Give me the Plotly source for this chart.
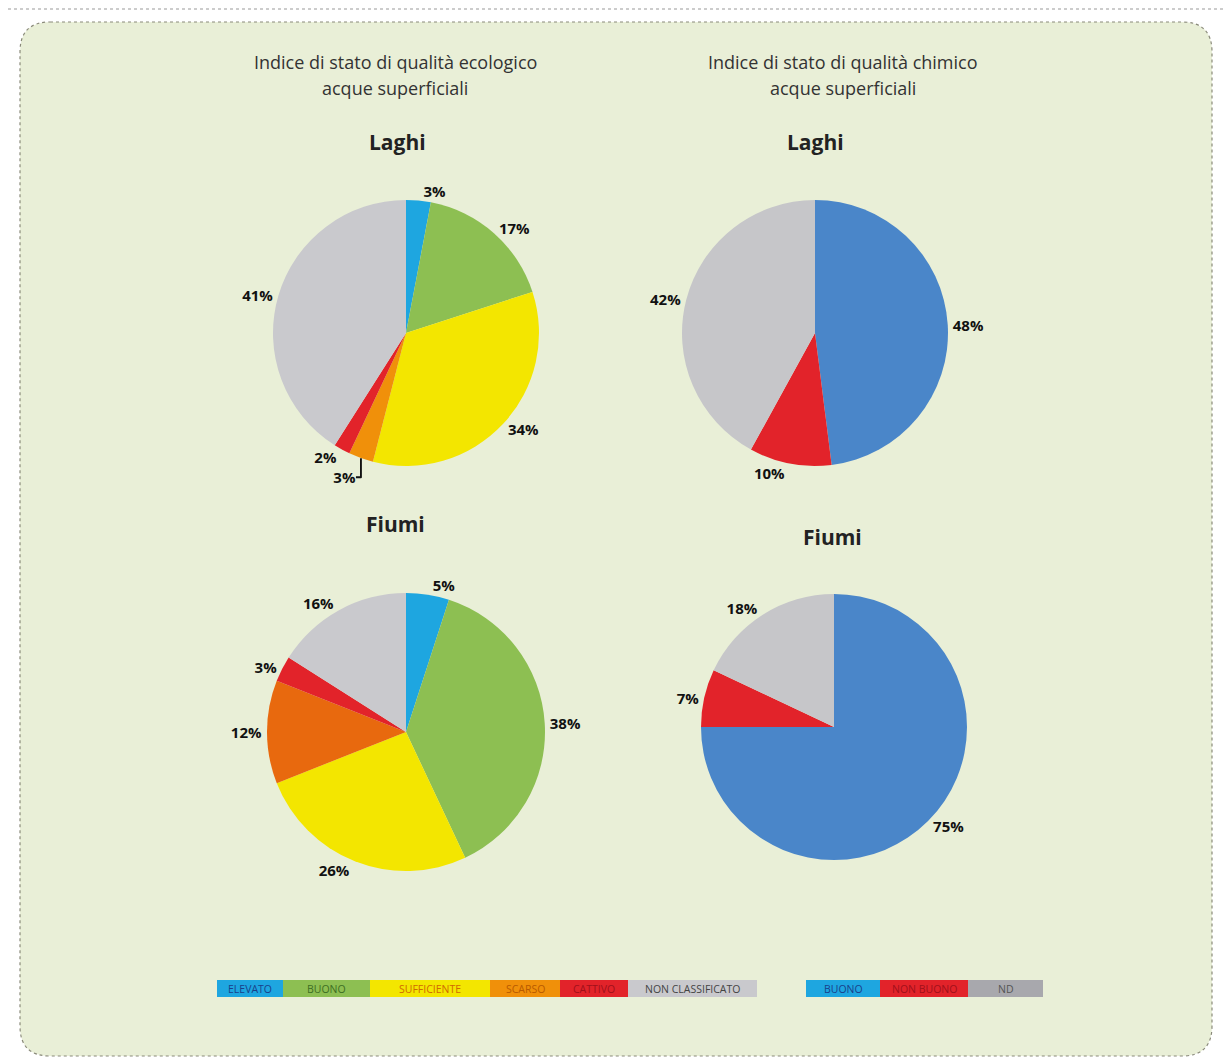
import plotly.graph_objects as go

W, H = 1231, 1061
OFF = 8  # page body margin offset

eco_labels = ["ELEVATO", "BUONO", "SUFFICIENTE", "SCARSO", "CATTIVO", "NON CLASSIFICATO"]
eco_colors = ["#1ea6e0", "#8dbf52", "#f3e600", "#f0900a", "#e2232a", "#c9c9cd"]
eco_text_colors = ["#1a3f8a", "#3e6e22", "#d06a00", "#b85a00", "#a0101a", "#444444"]
eco_laghi = [3, 17, 34, 3, 2, 41]
eco_fiumi = [5, 38, 26, 12, 3, 16]
fiumi_scarso_color = "#e8690e"

chem_labels = ["BUONO", "NON BUONO", "ND"]
chem_colors = ["#4a86c9", "#e2232a", "#c6c6c9"]
chem_legend_colors = ["#1ea6e0", "#e2232a", "#a8a8ad"]
chem_text_colors = ["#1a3f8a", "#a0101a", "#555555"]
chem_laghi = [48, 10, 42]
chem_fiumi = [75, 7, 18]


def px(x):
    return (x - OFF) / W


def py(y):
    return 1 - (y - OFF) / H


def dom(cx, cy, r):
    return dict(x=[px(cx - r), px(cx + r)], y=[py(cy + r), py(cy - r)])


fig = go.Figure()

pies = [
    (eco_labels, eco_laghi, eco_colors, (406, 333, 133)),
    (chem_labels, chem_laghi, chem_colors, (815, 333, 133)),
    (eco_labels, eco_fiumi, eco_colors[:3] + [fiumi_scarso_color] + eco_colors[4:], (406, 732, 139)),
    (chem_labels, chem_fiumi, chem_colors, (834, 727, 133)),
]
for labels, vals, cols, (cx, cy, r) in pies:
    fig.add_trace(go.Pie(
        labels=labels, values=vals, sort=False, direction="clockwise", rotation=0,
        marker=dict(colors=cols, line=dict(width=0)),
        texttemplate="%{value}%", textposition="outside",
        textfont=dict(family="Open Sans", size=15, color="#111111", weight="bold"),
        domain=dom(cx, cy, r), showlegend=False, hoverinfo="label+value",
    ))

shapes = []
# top dotted line
shapes.append(dict(type="line", xref="paper", yref="paper", x0=0, x1=1, y0=py(9), y1=py(9),
                   line=dict(color="#9a9a9a", width=1.2, dash="dot")))
# rounded panel
x0, x1, y0, y1, rr = 20, 1212, 22, 1056, 30
path = (f"M {px(x0+rr)},{py(y0)} L {px(x1-rr)},{py(y0)} Q {px(x1)},{py(y0)} {px(x1)},{py(y0+rr)} "
        f"L {px(x1)},{py(y1-rr)} Q {px(x1)},{py(y1)} {px(x1-rr)},{py(y1)} "
        f"L {px(x0+rr)},{py(y1)} Q {px(x0)},{py(y1)} {px(x0)},{py(y1-rr)} "
        f"L {px(x0)},{py(y0+rr)} Q {px(x0)},{py(y0)} {px(x0+rr)},{py(y0)} Z")
shapes.append(dict(type="path", xref="paper", yref="paper", path=path, fillcolor="#e9efd7",
                   line=dict(color="#8a8a7a", width=1.2, dash="dot"), layer="below"))

annotations = []


def txt(x, y, s, size, color="#333333", bold=False, family="Open Sans"):
    annotations.append(dict(x=px(x), y=py(y), xref="paper", yref="paper", text=s, showarrow=False,
                            font=dict(family=family, size=size, color=color, weight="bold" if bold else "normal"),
                            xanchor="center", yanchor="middle"))


txt(395, 62, "Indice di stato di qualità ecologico", 18)
txt(395, 88, "acque superficiali", 18)
txt(843, 62, "Indice di stato di qualità chimico", 18)
txt(843, 88, "acque superficiali", 18)
txt(397, 142, "Laghi", 21, "#222222", True)
txt(815, 142, "Laghi", 21, "#222222", True)
txt(395, 524, "Fiumi", 21, "#222222", True)
txt(832, 537, "Fiumi", 21, "#222222", True)

# legends
eco_bounds = [217, 283, 370, 490, 560, 628, 757]
chem_bounds = [806, 880, 968, 1043]
ly0, ly1 = 980, 997
for i, lab in enumerate(eco_labels):
    shapes.append(dict(type="rect", xref="paper", yref="paper", x0=px(eco_bounds[i]), x1=px(eco_bounds[i + 1]),
                       y0=py(ly1), y1=py(ly0), fillcolor=eco_colors[i], line=dict(width=0)))
    txt((eco_bounds[i] + eco_bounds[i + 1]) / 2, (ly0 + ly1) / 2, lab, 10.5, eco_text_colors[i])
for i, lab in enumerate(chem_labels):
    shapes.append(dict(type="rect", xref="paper", yref="paper", x0=px(chem_bounds[i]), x1=px(chem_bounds[i + 1]),
                       y0=py(ly1), y1=py(ly0), fillcolor=chem_legend_colors[i], line=dict(width=0)))
    txt((chem_bounds[i] + chem_bounds[i + 1]) / 2, (ly0 + ly1) / 2, lab, 10.5, chem_text_colors[i])

fig.update_layout(width=W, height=H, margin=dict(l=0, r=0, t=0, b=0),
                  paper_bgcolor="white", plot_bgcolor="white",
                  shapes=shapes, annotations=annotations)
fig.write_html("out.html")
